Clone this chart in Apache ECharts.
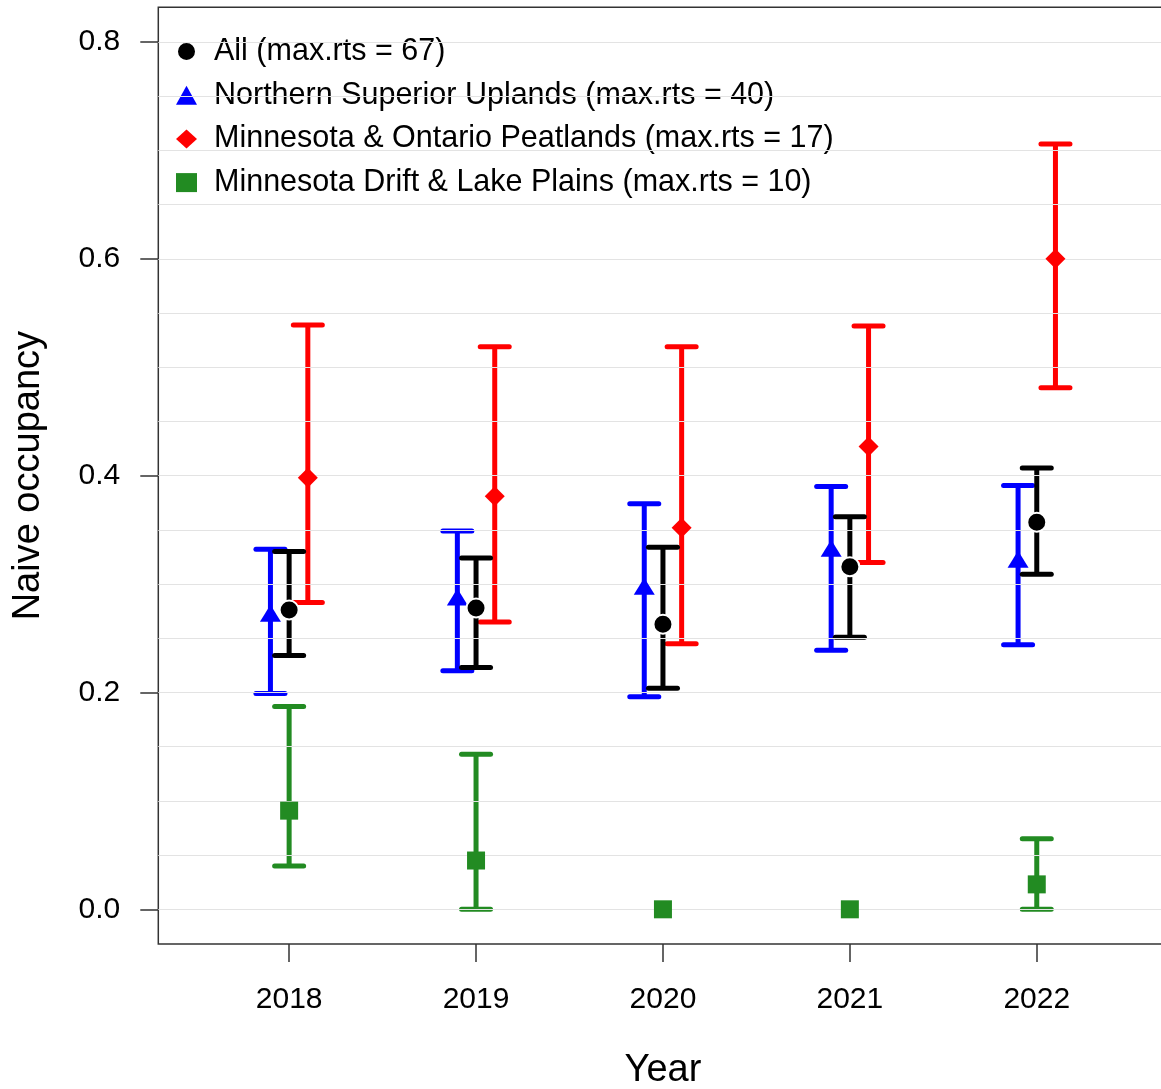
<!DOCTYPE html>
<html>
<head>
<meta charset="utf-8">
<script src="https://cdn.jsdelivr.net/npm/echarts@6/dist/echarts.min.js"></script>
<style>
html,body{margin:0;padding:0;background:#fff;overflow:hidden;}
#chart{width:1161px;height:1089px;}
</style>
</head>
<body>
<div id="chart"></div>
<script>
// ---- data ----
var years = [2018, 2019, 2020, 2021, 2022];
var yTicks = [0, 0.2, 0.4, 0.6, 0.8];
var gridValues = [0, 0.05, 0.1, 0.15, 0.2, 0.25, 0.3, 0.35, 0.4, 0.45, 0.5, 0.55, 0.6, 0.65, 0.7, 0.75, 0.8];

var allMean = [0.276, 0.278, 0.263, 0.316, 0.357];
var allLo   = [0.234, 0.223, 0.204, 0.251, 0.309];
var allHi   = [0.330, 0.324, 0.334, 0.362, 0.407];

var nsuMean = [0.273, 0.288, 0.298, 0.333, 0.323];
var nsuLo   = [0.199, 0.220, 0.196, 0.239, 0.244];
var nsuHi   = [0.332, 0.349, 0.374, 0.390, 0.391];

var mopMean = [0.398, 0.381, 0.352, 0.427, 0.600];
var mopLo   = [0.283, 0.265, 0.245, 0.320, 0.481];
var mopHi   = [0.539, 0.519, 0.519, 0.538, 0.706];

var mdlMean = [0.091, 0.045, 0.000, 0.000, 0.023];
var mdlLo   = [0.040, 0.000, null, null, 0.000];
var mdlHi   = [0.187, 0.143, null, null, 0.065];

var names = [
  'All (max.rts = 67)',
  'Northern Superior Uplands (max.rts = 40)',
  'Minnesota & Ontario Peatlands (max.rts = 17)',
  'Minnesota Drift & Lake Plains (max.rts = 10)'
];

// ---- build ----
var FONT = 'Liberation Sans, Arial, Helvetica, sans-serif';

function pts(mean, off) {
  return years.map(function (y, i) { return [y + off, mean[i]]; });
}
function bars(lo, hi, off) {
  var out = [];
  years.forEach(function (y, i) {
    if (lo[i] != null && hi[i] != null) out.push([y + off, lo[i], hi[i]]);
  });
  return out;
}
function errSeries(data, color, z) {
  return {
    type: 'custom',
    name: 'err_' + color,
    z: z,
    silent: true,
    data: data,
    encode: { x: 0, y: [1, 2] },
    renderItem: function (params, api) {
      var x = api.value(0);
      var a = api.coord([x, api.value(1)]);
      var b = api.coord([x, api.value(2)]);
      var hw = 14.5;
      var lw = 5;
      return {
        type: 'group',
        children: [
          { type: 'line', shape: { x1: a[0], y1: a[1], x2: b[0], y2: b[1] },
            style: { stroke: color, lineWidth: lw, lineCap: 'butt' } },
          { type: 'line', shape: { x1: a[0] - hw, y1: a[1], x2: a[0] + hw, y2: a[1] },
            style: { stroke: color, lineWidth: lw, lineCap: 'round' } },
          { type: 'line', shape: { x1: b[0] - hw, y1: b[1], x2: b[0] + hw, y2: b[1] },
            style: { stroke: color, lineWidth: lw, lineCap: 'round' } }
        ]
      };
    }
  };
}

var chart = echarts.init(document.getElementById('chart'), null, { renderer: 'canvas', width: 1161, height: 1089 });

var option = {
  backgroundColor: '#ffffff',
  animation: false,
  textStyle: { fontFamily: FONT },
  grid: {
    left: 158.3, top: 7.3, width: 1009.3, height: 936.7,
    show: true, borderColor: '#333', borderWidth: 1.5, backgroundColor: 'transparent',
    containLabel: false,
    outerBoundsMode: 'none'
  },
  legend: {
    orient: 'vertical',
    left: 176, top: 36,
    padding: 0,
    itemWidth: 21, itemHeight: 19, itemGap: 12.7,
    selectedMode: false,
    textStyle: { fontSize: 30.5, color: '#000', fontFamily: FONT, lineHeight: 18, padding: [0, 0, 0, 12] },
    data: names
  },
  xAxis: {
    type: 'value',
    min: 2017.3, max: 2022.7,
    name: 'Year', nameLocation: 'middle', nameGap: 108,
    nameTextStyle: { fontSize: 38, color: '#000', fontFamily: FONT },
    axisLine: { show: false, onZero: false },
    axisTick: { show: true, customValues: years, length: 18, lineStyle: { color: '#333', width: 1.5 } },
    axisLabel: { customValues: years, fontSize: 30, color: '#000', margin: 41, fontFamily: FONT,
      formatter: function (v) { return String(v); } },
    splitLine: { show: false }
  },
  yAxis: {
    type: 'value',
    min: -0.032, max: 0.832,
    name: 'Naive occupancy', nameLocation: 'middle', nameGap: 111,
    nameTextStyle: { fontSize: 38, color: '#000', fontFamily: FONT },
    axisLine: { show: false, onZero: false },
    axisTick: { show: true, customValues: yTicks, length: 18, lineStyle: { color: '#333', width: 1.5 } },
    axisLabel: { customValues: yTicks, fontSize: 30, color: '#000', margin: 38, fontFamily: FONT,
      formatter: function (v) { return v.toFixed(1); } },
    splitLine: { show: false }
  },
  series: [
    {
      type: 'line', name: 'grid', data: [], z: 1, silent: true,
      markLine: {
        silent: true, symbol: ['none', 'none'], label: { show: false },
        lineStyle: { color: '#e3e3e3', width: 1.2, type: 'solid' },
        animation: false,
        data: gridValues.map(function (v) { return { yAxis: v }; })
      }
    },
    errSeries(bars(nsuLo, nsuHi, -0.1), '#0000ff', 3),
    errSeries(bars(mopLo, mopHi, 0.1), '#ff0000', 3),
    errSeries(bars(mdlLo, mdlHi, 0), '#228b22', 3),
    errSeries(bars(allLo, allHi, 0), '#000000', 4),
    {
      type: 'scatter', name: names[1], data: pts(nsuMean, -0.1), z: 5,
      symbol: 'triangle', symbolSize: [21, 17], itemStyle: { color: '#0000ff', opacity: 1 }
    },
    {
      type: 'scatter', name: names[2], data: pts(mopMean, 0.1), z: 5,
      symbol: 'diamond', symbolSize: [20, 20], itemStyle: { color: '#ff0000', opacity: 1 }
    },
    {
      type: 'scatter', name: names[3], data: pts(mdlMean, 0), z: 5,
      symbol: 'rect', symbolSize: [18, 18], itemStyle: { color: '#228b22', opacity: 1 }
    },
    {
      type: 'scatter', name: names[0], data: pts(allMean, 0), z: 6,
      symbol: 'circle', symbolSize: 19,
      itemStyle: { color: '#000000', borderColor: '#ffffff', borderWidth: 2, opacity: 1 }
    }
  ]
};
chart.setOption(option);
</script>
</body>
</html>
